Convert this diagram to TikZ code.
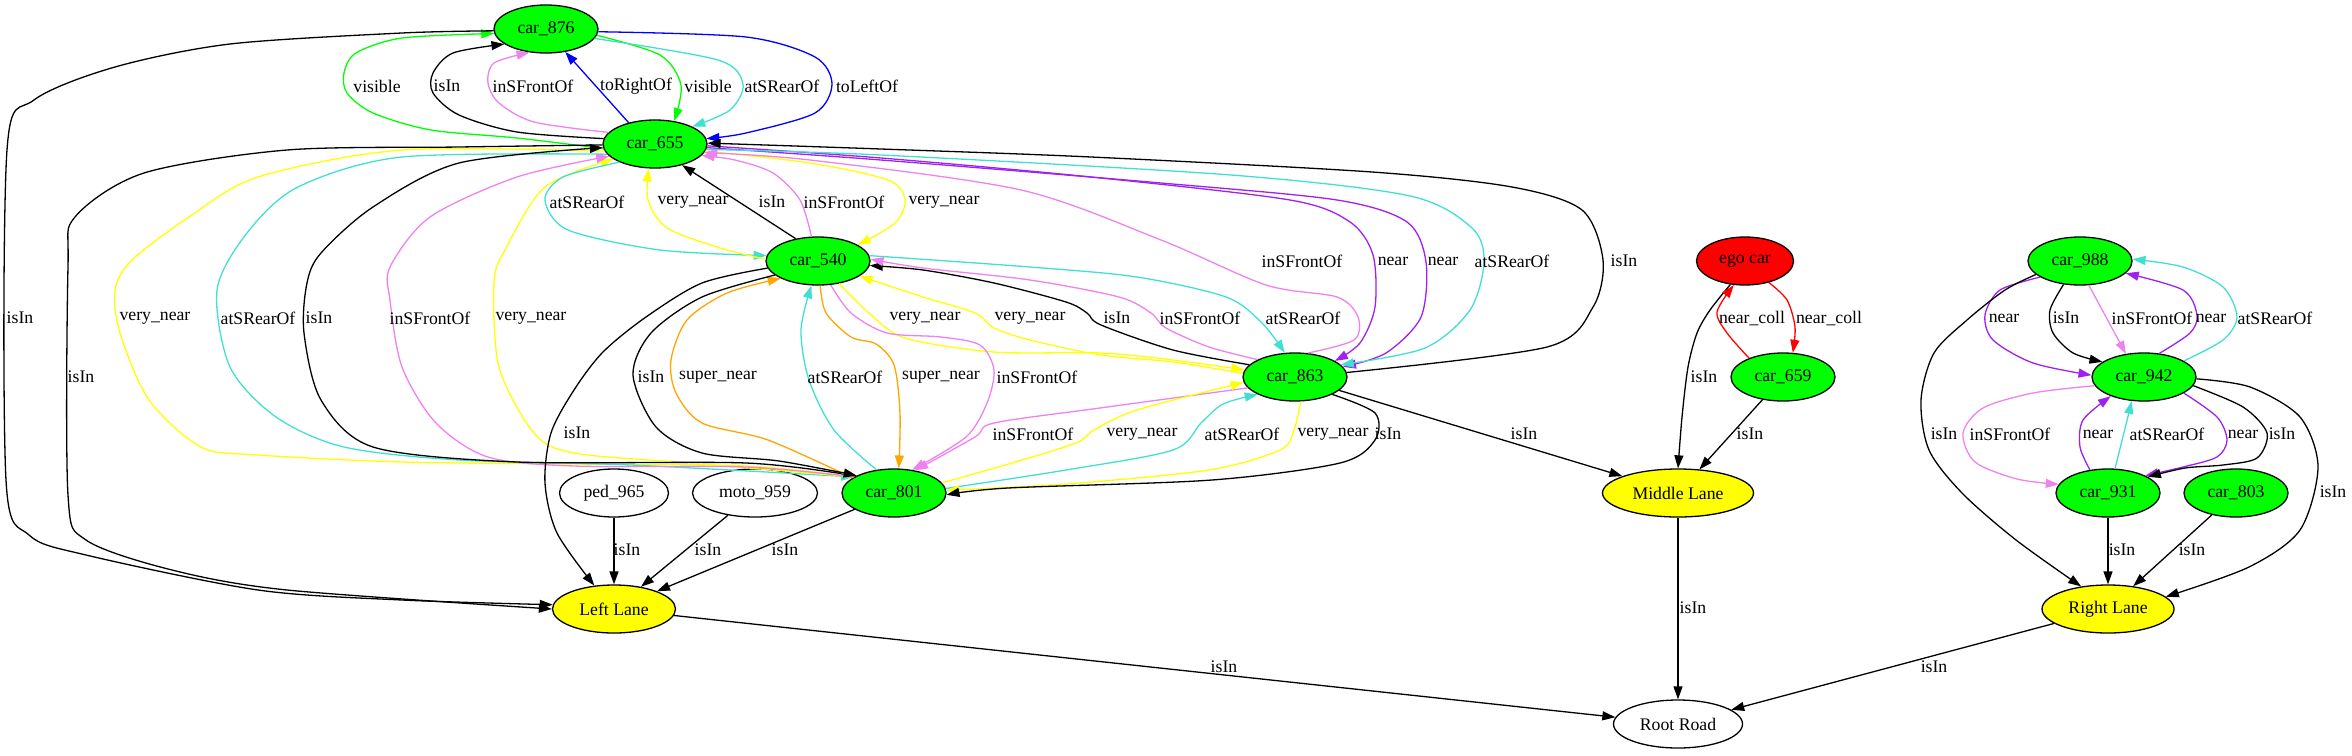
\documentclass[tikz,border=0pt]{standalone}
\usepackage{fontspec}
\setmainfont{Liberation Serif}
\usetikzlibrary{shapes.geometric,arrows.meta}
\definecolor{gvgreen}{HTML}{00FF00}
\definecolor{gvyellow}{HTML}{FFFF00}
\definecolor{gvred}{HTML}{FF0000}
\definecolor{gvblue}{HTML}{0000FF}
\definecolor{gvviolet}{HTML}{EE82EE}
\definecolor{gvturq}{HTML}{40E0D0}
\definecolor{gvorange}{HTML}{FFA500}
\definecolor{gvpurple}{HTML}{A020F0}
\begin{document}
\begin{tikzpicture}[x=1pt,y=-1pt,
  font=\fontsize{17.7pt}{21pt}\selectfont,
  nd/.style={ellipse,draw=black,line width=1.3pt,inner sep=0pt,minimum height=48pt,minimum width=104pt,fill=white},
  car/.style={nd,fill=gvgreen},
  lane/.style={nd,fill=gvyellow},
  e/.style={line width=1.3pt,-{Triangle[length=13pt,width=9pt]}},
  lbl/.style={inner sep=0pt}]
\useasboundingbox (0,0) rectangle (2352,755);

% nodes
\node[car] (c876) at (546,29) {car\_876};
\node[car] (c655) at (655,144) {car\_655};
\node[car] (c540) at (818,261) {car\_540};
\node[car] (c863) at (1295,377) {car\_863};
\node[car] (c801) at (894,493) {car\_801};
\node[nd,minimum width=109pt] (p965) at (614,493) {ped\_965};
\node[nd,minimum width=125pt] (m959) at (755,493) {moto\_959};
\node[lane,minimum width=123pt] (LL) at (614,609) {Left Lane};
\node[nd,fill=gvred,minimum width=97pt] (ego) at (1745,261) {ego car};
\node[car] (c659) at (1783,377) {car\_659};
\node[lane,minimum width=151pt] (ML) at (1678,493) {Middle Lane};
\node[nd,minimum width=129pt] (RR) at (1678,724) {Root Road};
\node[car] (c988) at (2080,261) {car\_988};
\node[car] (c942) at (2144,377) {car\_942};
\node[car] (c931) at (2108,493) {car\_931};
\node[car] (c803) at (2236,493) {car\_803};
\node[lane,minimum width=132pt] (RL) at (2108,609) {Right Lane};

% car_876 <-> car_655
\draw[e,gvgreen] plot[smooth] coordinates {(c655.185) (517,138) (431,130) (373,113) (347,93) (344,73) (356,53) (402,38) (c876.185)};
\draw[e,black] plot[smooth] coordinates {(c655.174) (517,132) (459,115) (433,93) (433,73) (453,53) (c876.200)};
\draw[e,gvviolet] plot[smooth] coordinates {(c655.166) (534,122) (499,103) (488,83) (494,63) (c876.235)};
\draw[e,gvblue] (c655.141) -- (c876.310);
\draw[e,gvgreen] plot[smooth] coordinates {(c876.353) (660,55) (681,85) (c655.50)};
\draw[e,gvturq] plot[smooth] coordinates {(c876.349) (718,60) (743,84) (730,110) (c655.25)};
\draw[e,gvblue] plot[smooth] coordinates {(c876.357) (746,37) (815,57) (832,84) (815,113) (746,133) (c655.6)};

% to Left Lane (long)
\draw[e] plot[smooth] coordinates {(c876.182) (402,33) (230,44) (115,67) (34,100) (7,150) (6,480) (29,535) (86,555) (258,590) (402,600) (LL.176)};
\draw[e] plot[smooth] coordinates {(c655.181) (459,147) (287,150) (144,173) (75,217) (68,267) (68,495) (86,540) (172,570) (287,590) (LL.180)};

% car_655 <-> car_801 bundle
\draw[e,gvyellow] plot[smooth] coordinates {(c655.188) (402,150) (258,177) (189,217) (132,260) (115,290) (120,333) (149,400) (201,447) (258,455) (402,462) (574,464) (746,466) (c801.158)};
\draw[e,gvturq] plot[smooth] coordinates {(c655.192) (402,157) (298,187) (247,233) (217,290) (230,367) (276,417) (344,447) (459,460) (631,465) (c801.158)};
\draw[e,gvyellow] plot[smooth] coordinates {(c801.158) (689,463) (574,453) (534,433) (499,367) (494,283) (505,250) (545,187) (c655.200)};
\draw[e,gvviolet] plot[smooth] coordinates {(c801.158) (746,467) (574,466) (488,457) (436,423) (402,367) (390,300) (390,267) (430,217) (517,177) (c655.195)};
\draw[e] plot[smooth] coordinates {(c801.156) (746,463) (517,462) (373,447) (321,400) (304,333) (307,283) (321,253) (373,207) (459,163) (c655.184)};

% car_655 <-> car_540
\draw[e,gvturq] plot[smooth] coordinates {(c655.207) (563,177) (545,200) (568,230) (660,250) (c540.174)};
\draw[e,gvyellow] plot[smooth] coordinates {(c540.178) (720,248) (667,228) (648,200) (c655.256)};
\draw[e] (c540.135) -- (c655.322);
\draw[e,gvviolet] plot[smooth] coordinates {(c540.105) (800,200) (773,173) (735,160) (c655.346)};
\draw[e,gvyellow] plot[smooth] coordinates {(c655.352) (810,163) (888,180) (905,200) (895,223) (c540.22)};

% car_655 <-> car_863
\draw[e,gvviolet] plot[smooth] coordinates {(c863.62) (1354,340) (1358,317) (1337,297) (1266,285) (1161,240) (1021,190) (810,160) (c655.350)};
\draw[e,gvpurple] plot[smooth] coordinates {(c655.358) (881,158) (1091,177) (1290,200) (1350,222) (1373,255) (1375,307) (1360,343) (c863.22)};
\draw[e,gvpurple] plot[smooth] coordinates {(c655.356) (881,160) (1161,183) (1337,200) (1407,222) (1426,262) (1421,317) (1386,353) (c863.12)};
\draw[e,gvturq] plot[smooth] coordinates {(c655.354) (881,155) (1231,175) (1410,196) (1472,228) (1484,262) (1470,310) (1425,348) (c863.15)};
\draw[e] plot[smooth] coordinates {(c863.5) (1547,347) (1593,307) (1603,260) (1582,210) (1512,187) (1372,172) (1091,157) (881,149) (c655.1)};

% car_540 <-> car_863
\draw[e,gvyellow] plot[smooth] coordinates {(c540.313) (869,313) (905,338) (994,352) (1101,353) (1173,360) (c863.172)};
\draw[e,gvyellow] plot[smooth] coordinates {(c863.176) (1173,362) (1101,355) (1030,340) (994,328) (975,313) (923,297) (c540.340)};
\draw[e] plot[smooth] coordinates {(c863.165) (1173,350) (1101,325) (1087,313) (1066,302) (994,283) (923,270) (c540.355)};
\draw[e,gvviolet] plot[smooth] coordinates {(c863.155) (1209,347) (1166,328) (1151,313) (1119,297) (1030,280) (923,268) (c540.2)};
\draw[e,gvturq] plot[smooth] coordinates {(c540.6) (1030,267) (1137,277) (1226,297) (1262,323) (c863.113)};

% car_540 <-> car_801
\draw[e,gvorange] plot[smooth] coordinates {(c801.160) (768,440) (702,423) (676,393) (671,360) (687,320) (727,293) (c540.205)};
\draw[e] plot[smooth] coordinates {(c540.198) (702,297) (651,333) (633,375) (656,427) (702,453) (779,461) (c801.155)};
\draw[e,gvturq] plot[smooth] coordinates {(c801.127) (834,430) (809,380) (801,330) (c540.255)};
\draw[e,gvorange] plot[smooth] coordinates {(c540.275) (826,313) (851,337) (876,344) (894,365) (900,413) (c801.79)};
\draw[e,gvviolet] plot[smooth] coordinates {(c540.298) (851,313) (887,333) (941,337) (980,345) (994,370) (987,403) (966,437) (c801.52)};

% car_801 <-> car_863
\draw[e,gvviolet] plot[smooth] coordinates {(c863.193) (1100,408) (994,423) (975,437) (c801.47)};
\draw[e,gvyellow] plot[smooth] coordinates {(c801.12) (1012,463) (1076,443) (1094,430) (1137,410) (c863.186)};
\draw[e,gvturq] plot[smooth] coordinates {(c801.5) (1066,470) (1173,450) (1201,423) (1223,404) (c863.205)};
\draw[e,gvyellow] plot[smooth] coordinates {(c863.283) (1294,430) (1280,450) (1209,470) (1066,484) (c801.3)};
\draw[e] plot[smooth] coordinates {(c863.335) (1375,413) (1375,440) (1340,463) (1212,480) (1008,488) (c801.358)};

% Left Lane
\draw[e] plot[smooth] coordinates {(c540.188) (702,283) (646,317) (603,352) (574,390) (551,433) (545,483) (557,533) (LL.130)};
\draw[e] (p965) -- (LL);
\draw[e] (m959) -- (LL);
\draw[e] (c801) -- (LL);
\draw[e] (LL) -- (RR);

% Middle
\draw[e] (c863) -- (ML);
\draw[e] plot[smooth] coordinates {(ego.238) (1710,310) (1697,333) (1688,367) (1682,417) (ML.90)};
\draw[e,gvred] plot[smooth] coordinates {(c659.151) (1727,333) (1717,312) (ego.245)};
\draw[e,gvred] plot[smooth] coordinates {(ego.318) (1787,300) (1795,327) (c659.68)};
\draw[e] (c659) -- (ML);
\draw[e] (ML) -- (RR);
\draw[e] (RL) -- (RR);

% Right cluster
\draw[e,gvpurple] plot[smooth] coordinates {(c988.202) (2000,290) (1985,315) (1993,340) (2033,363) (c942.178)};
\draw[e] plot[smooth] coordinates {(c988.235) (2050,310) (2053,333) (2073,353) (c942.160)};
\draw[e,gvviolet] (c988.290) -- (c942.128);
\draw[e,gvpurple] plot[smooth] coordinates {(c942.57) (2190,333) (2197,315) (2183,290) (c988.345)};
\draw[e,gvturq] plot[smooth] coordinates {(c942.22) (2223,340) (2237,317) (2223,287) (2183,267) (c988.2)};
\draw[e] plot[smooth] coordinates {(c988.197) (2005,290) (1967,320) (1934,353) (1921,400) (1929,450) (1962,493) (2016,540) (RL.140)};
\draw[e,gvviolet] plot[smooth] coordinates {(c942.190) (2033,393) (1983,408) (1963,433) (1975,462) (2017,479) (c931.170)};
\draw[e,gvpurple] plot[smooth] coordinates {(c931.128) (2080,447) (2083,420) (c942.210)};
\draw[e,gvturq] (c931.74) -- (c942.243);
\draw[e,gvpurple] plot[smooth] coordinates {(c942.338) (2217,417) (2227,440) (2217,457) (2183,467) (c931.25)};
\draw[e] plot[smooth] coordinates {(c942.350) (2243,407) (2267,433) (2257,458) (2223,465) (2185,468) (c931.22)};
\draw[e] plot[smooth] coordinates {(c942.358) (2250,387) (2300,417) (2318,467) (2300,530) (2249,567) (RL.12)};
\draw[e] (c931) -- (RL);
\draw[e] (c803) -- (RL);

% labels
\node[lbl] (t01) at (377,86) {visible};
\node[lbl] (t02) at (447,86) {isIn};
\node[lbl] (t03) at (533,86) {inSFrontOf};
\node[lbl] (t04) at (636,86) {toRightOf};
\node[lbl] (t05) at (708,86) {visible};
\node[lbl] (t06) at (782,86) {atSRearOf};
\node[lbl] (t07) at (867,86) {toLeftOf};
\node[lbl] (t08) at (20,318) {isIn};
\node[lbl] (t09) at (81,377) {isIn};
\node[lbl] (t10) at (155,318) {very\_near};
\node[lbl] (t11) at (258,318) {atSRearOf};
\node[lbl] (t12) at (319,318) {isIn};
\node[lbl] (t13) at (430,318) {inSFrontOf};
\node[lbl] (t14) at (531,318) {very\_near};
\node[lbl] (t15) at (587,202) {atSRearOf};
\node[lbl] (t16) at (693,202) {very\_near};
\node[lbl] (t17) at (772,202) {isIn};
\node[lbl] (t18) at (844,202) {inSFrontOf};
\node[lbl] (t19) at (944,202) {very\_near};
\node[lbl] (t20) at (1302,261) {inSFrontOf};
\node[lbl] (t21) at (1393,261) {near};
\node[lbl] (t22) at (1443,261) {near};
\node[lbl] (t23) at (1512,261) {atSRearOf};
\node[lbl] (t24) at (1624,261) {isIn};
\node[lbl] (t25) at (925,318) {very\_near};
\node[lbl] (t26) at (1030,318) {very\_near};
\node[lbl] (t27) at (1117,318) {isIn};
\node[lbl] (t28) at (1200,318) {inSFrontOf};
\node[lbl] (t29) at (1303,318) {atSRearOf};
\node[lbl] (t30) at (651,377) {isIn};
\node[lbl] (t31) at (718,377) {super\_near};
\node[lbl] (t32) at (845,377) {atSRearOf};
\node[lbl] (t33) at (941,377) {super\_near};
\node[lbl] (t34) at (1037,377) {inSFrontOf};
\node[lbl] (t35) at (1033,434) {inSFrontOf};
\node[lbl] (t36) at (1142,434) {very\_near};
\node[lbl] (t37) at (1242,434) {atSRearOf};
\node[lbl] (t38) at (1333,434) {very\_near};
\node[lbl] (t39) at (1388,434) {isIn};
\node[lbl] (t40) at (577,433) {isIn};
\node[lbl] (t41) at (627,550) {isIn};
\node[lbl] (t42) at (708,550) {isIn};
\node[lbl] (t43) at (785,550) {isIn};
\node[lbl] (t44) at (1224,667) {isIn};
\node[lbl] (t45) at (1524,434) {isIn};
\node[lbl] (t46) at (1704,377) {isIn};
\node[lbl] (t47) at (1752,318) {near\_coll};
\node[lbl] (t48) at (1829,318) {near\_coll};
\node[lbl] (t49) at (1750,434) {isIn};
\node[lbl] (t50) at (1693,608) {isIn};
\node[lbl] (t51) at (1934,667) {isIn};
\node[lbl] (t52) at (2004,318) {near};
\node[lbl] (t53) at (2066,318) {isIn};
\node[lbl] (t54) at (2152,318) {inSFrontOf};
\node[lbl] (t55) at (2211,318) {near};
\node[lbl] (t56) at (2275,318) {atSRearOf};
\node[lbl] (t57) at (1944,434) {isIn};
\node[lbl] (t58) at (2010,434) {inSFrontOf};
\node[lbl] (t59) at (2098,434) {near};
\node[lbl] (t60) at (2167,434) {atSRearOf};
\node[lbl] (t61) at (2243,434) {near};
\node[lbl] (t62) at (2282,434) {isIn};
\node[lbl] (t63) at (2333,492) {isIn};
\node[lbl] (t64) at (2122,550) {isIn};
\node[lbl] (t65) at (2192,550) {isIn};
\end{tikzpicture}
\end{document}
